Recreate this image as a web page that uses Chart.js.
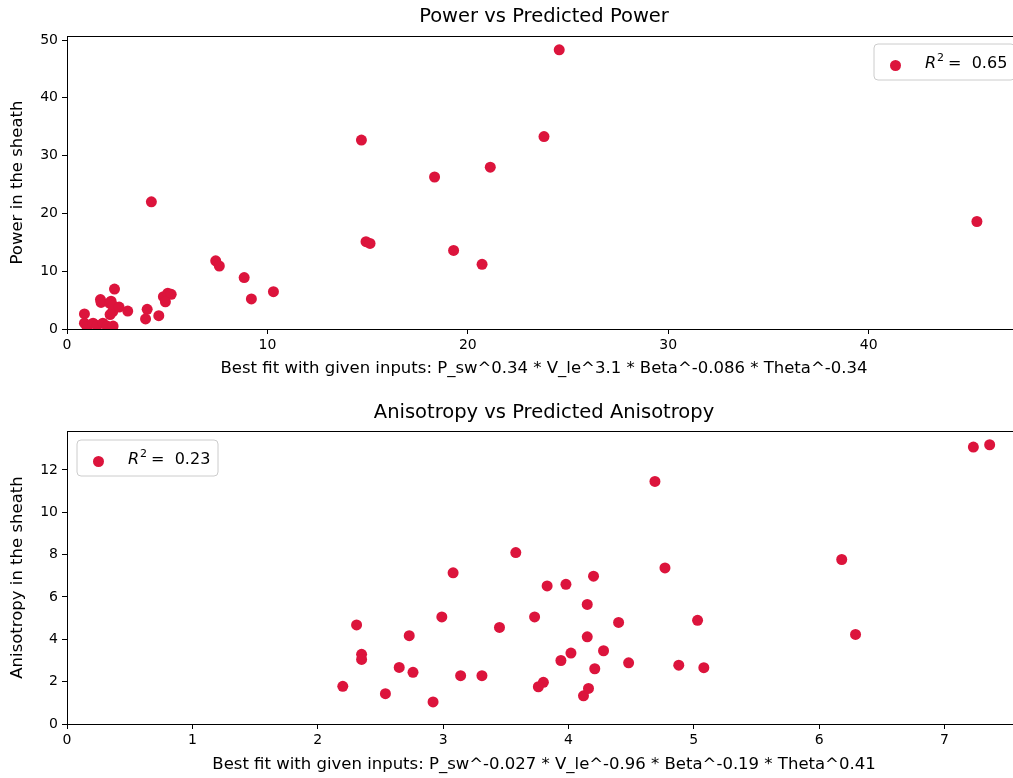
<!DOCTYPE html>
<html>
<head>
<meta charset="utf-8">
<script src="https://cdn.jsdelivr.net/npm/chart.js@4.4.1/dist/chart.umd.min.js"></script>
<style>
  html, body { margin: 0; padding: 0; background: #fff; overflow: hidden; width: 1013px; height: 778px; }
  canvas { display: block; }
</style>
</head>
<body>
<canvas id="powerChart" width="1040" height="390"></canvas>
<canvas id="anisoChart" width="1040" height="388"></canvas>
<script>
const powerPredicted = [
  24.56, 23.8, 14.69, 18.34, 21.12, 4.21, 45.4, 14.92, 15.12, 19.29, 20.71,
  7.42, 7.6, 8.84, 10.3, 9.2,
  4.0, 3.92, 4.58, 4.81, 5.03, 5.2, 4.91,
  0.87, 0.87, 1.0, 1.3, 1.5, 1.79, 1.67, 1.7, 2.0, 2.12, 2.2, 2.28, 2.3,
  2.37, 2.3, 2.6, 3.03, 2.15
];
const powerMeasured = [
  48.3, 33.3, 32.7, 26.3, 28.0, 22.0, 18.6, 15.1, 14.8, 13.6, 11.2,
  11.8, 10.9, 8.9, 6.45, 5.2,
  3.4, 1.75, 2.3, 5.6, 6.2, 6.0, 4.7,
  2.6, 1.0, 0.4, 1.0, 0.6, 1.0, 5.1, 4.6, 0.5, 4.5, 4.8, 3.0, 0.5,
  6.9, 4.0, 3.8, 3.1, 2.5
];

const anisoPredicted = [
  3.58, 3.08, 3.83, 3.98, 2.99, 3.73, 2.31, 3.45, 2.73, 2.35, 2.35, 4.02,
  3.94, 2.65, 2.76, 3.14, 3.31, 2.2, 3.8, 3.76, 2.54, 2.92, 4.12,
  4.69, 4.77, 4.2, 4.15, 4.4, 5.03, 4.15, 4.28, 4.21, 4.48, 4.88, 5.08, 4.16,
  7.23, 7.36, 6.18, 6.29
];
const anisoMeasured = [
  8.1, 7.14, 6.52, 6.6, 5.06, 5.06, 4.68, 4.56, 4.17, 3.29, 3.05, 3.35,
  3.0, 2.67, 2.44, 2.28, 2.28, 1.78, 1.97, 1.76, 1.43, 1.04, 1.33,
  11.46, 7.37, 6.98, 5.65, 4.8, 4.9, 4.12, 3.46, 2.61, 2.89, 2.78, 2.66, 1.68,
  13.08, 13.19, 7.77, 4.23
];

const powerR2 = "0.65";
const anisoR2 = "0.23";

const FONT = "'DejaVu Sans', sans-serif";
const RED = "#DC143C";

const toPoints = (xs, ys) => xs.map((x, i) => ({ x: x, y: ys[i] }));

// frame, title and the matplotlib-like legend box
const extras = {
  id: "extras",
  afterDraw(chart, args, opts) {
    const { ctx, chartArea: a } = chart;
    ctx.save();
    ctx.strokeStyle = "#000";
    ctx.lineWidth = 1;
    ctx.strokeRect(Math.round(a.left) + 0.5, Math.round(a.top) + 0.5,
      Math.round(a.right - a.left), Math.round(a.bottom - a.top));

    ctx.fillStyle = "#000";
    ctx.font = "19.5px " + FONT;
    ctx.textAlign = "center";
    ctx.textBaseline = "middle";
    ctx.fillText(opts.title, (a.left + a.right) / 2, opts.titleY);

    const lx = opts.legendX, ly = opts.legendY, lw = 141, lh = 36, r = 4;
    ctx.beginPath();
    ctx.moveTo(lx + r, ly);
    ctx.arcTo(lx + lw, ly, lx + lw, ly + lh, r);
    ctx.arcTo(lx + lw, ly + lh, lx, ly + lh, r);
    ctx.arcTo(lx, ly + lh, lx, ly, r);
    ctx.arcTo(lx, ly, lx + lw, ly, r);
    ctx.closePath();
    ctx.fillStyle = "rgba(255,255,255,0.8)";
    ctx.fill();
    ctx.strokeStyle = "#cccccc";
    ctx.stroke();

    ctx.beginPath();
    ctx.arc(lx + 21.5, ly + 21.5, 5.5, 0, Math.PI * 2);
    ctx.fillStyle = RED;
    ctx.fill();

    let tx = lx + 51;
    const ty = ly + 20;
    ctx.fillStyle = "#000";
    ctx.textAlign = "left";
    ctx.textBaseline = "middle";
    ctx.font = "italic 16px " + FONT;
    ctx.fillText("R", tx, ty);
    tx += ctx.measureText("R").width + 1;
    ctx.font = "11px " + FONT;
    ctx.fillText("2", tx, ty - 6);
    tx += ctx.measureText("2").width + 4;
    ctx.font = "16px " + FONT;
    ctx.fillText("=  " + opts.r2, tx, ty);
    ctx.restore();
  }
};

function makeChart(id, cfg) {
  const ctx = document.getElementById(id).getContext("2d");
  return new Chart(ctx, {
    type: "scatter",
    data: {
      datasets: [{
        label: "R2",
        data: cfg.points,
        pointRadius: 5.5,
        pointHoverRadius: 5.5,
        pointBackgroundColor: RED,
        pointBorderWidth: 0,
        borderColor: RED
      }]
    },
    options: {
      responsive: false,
      animation: false,
      events: [],
      layout: { padding: { top: cfg.top, left: 0, right: 19, bottom: 0 } },
      plugins: {
        legend: { display: false },
        tooltip: { enabled: false },
        extras: cfg.extras
      },
      scales: {
        x: {
          type: "linear",
          min: 0,
          max: cfg.xMax,
          afterFit: (s) => { s.height = cfg.xHeight; },
          ticks: { stepSize: cfg.xStep, includeBounds: false, color: "#000", font: { family: FONT, size: 14 }, padding: 3, maxRotation: 0 },
          grid: { drawOnChartArea: false, drawTicks: true, tickLength: 5, color: "#000" },
          border: { display: true, color: "#000" },
          title: { display: true, text: cfg.xTitle, color: "#000", font: { family: FONT, size: 16.5 }, padding: { top: cfg.xTitlePad, bottom: cfg.xTitlePad } }
        },
        y: {
          type: "linear",
          min: 0,
          max: cfg.yMax,
          afterFit: (s) => { s.width = 67; },
          ticks: { stepSize: cfg.yStep, includeBounds: false, color: "#000", font: { family: FONT, size: 14 }, padding: 4 },
          grid: { drawOnChartArea: false, drawTicks: true, tickLength: 5, color: "#000" },
          border: { display: true, color: "#000" },
          title: { display: true, text: cfg.yTitle, color: "#000", font: { family: FONT, size: 16.5 }, padding: { top: 8, bottom: 8 } }
        }
      }
    },
    plugins: [extras]
  });
}

makeChart("powerChart", {
  points: toPoints(powerPredicted, powerMeasured),
  top: 36,
  xMax: 47.6, xStep: 10, xHeight: 61, xTitlePad: 11,
  yMax: 50.7, yStep: 10,
  xTitle: "Best fit with given inputs: P_sw^0.34 * V_le^3.1 * Beta^-0.086 * Theta^-0.34",
  yTitle: "Power in the sheath",
  extras: { title: "Power vs Predicted Power", titleY: 17, legendX: 874, legendY: 44, r2: powerR2 }
});

makeChart("anisoChart", {
  points: toPoints(anisoPredicted, anisoMeasured),
  top: 41,
  xMax: 7.61, xStep: 1, xHeight: 54, xTitlePad: 3,
  yMax: 13.84, yStep: 2,
  xTitle: "Best fit with given inputs: P_sw^-0.027 * V_le^-0.96 * Beta^-0.19 * Theta^0.41",
  yTitle: "Anisotropy in the sheath",
  extras: { title: "Anisotropy vs Predicted Anisotropy", titleY: 23, legendX: 77, legendY: 50, r2: anisoR2 }
});
</script>
</body>
</html>
